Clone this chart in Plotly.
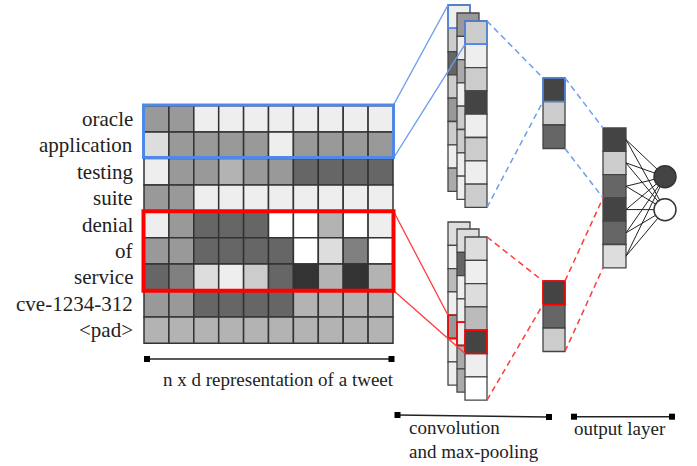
import plotly.graph_objects as go

W, H = 697, 466

# ---------------- data ----------------
words = ["oracle", "application", "testing", "suite", "denial", "of",
         "service", "cve-1234-312", "<pad>"]

# grey level (0 = black, 255 = white) of every cell of the n x d tweet matrix
tweet_matrix = [
    [153, 153, 238, 238, 238, 238, 238, 238, 238, 238],
    [221, 153, 153, 153, 153, 238, 153, 153, 153, 153],
    [238, 153, 153, 179, 153, 153, 102, 102, 102, 102],
    [153, 153, 238, 238, 238, 238, 238, 238, 238, 238],
    [238, 153, 102, 102, 102, 255, 255, 179, 255, 238],
    [153, 153, 102, 102, 102, 102, 255, 221, 128, 255],
    [102, 128, 221, 238, 204, 102, 51, 179, 51, 179],
    [153, 153, 102, 102, 102, 102, 179, 179, 179, 179],
    [179, 179, 179, 179, 179, 179, 179, 179, 179, 179],
]

# feature maps of the filter of height 2 (blue) – back, middle, front
fmap2_back = [238, 204, 102, 204, 153, 204, 238, 170]
fmap2_mid = [153, 238, 170, 238, 204, 204, 238, 238]
fmap2_front = [204, 238, 204, 68, 238, 204, 238, 204]

# feature maps of the filter of height 3 (red) – back, middle, front
fmap3_back = [221, 238, 187, 238, 153, 238, 238]
fmap3_mid = [221, 102, 238, 238, 238, 170, 170]
fmap3_front = [221, 238, 221, 187, 68, 238, 255]

pooled2 = [68, 204, 102]
pooled3 = [68, 102, 204]
output_vec = [68, 204, 102, 68, 102, 221]
output_nodes = [68, 255]

caption_tweet = "n x d representation of a tweet"
caption_conv = ["convolution", "and max-pooling"]
caption_out = "output layer"

# ---------------- styles ----------------
BLUE = "#4f88e6"
BLUE_L = "#6d9eeb"
RED = "#ff0000"
RED_L = "#ff3b3b"
CELL_LINE = "#444444"
FONT = "Liberation Serif"


def gray(v):
    return f"rgb({v},{v},{v})"


fig = go.Figure()


def add_column(x_left, top, width, cell_h, values, hl=None, hl_color=None,
               lc=CELL_LINE, lw=1.3, hl_w=1.6):
    n = len(values)
    fig.add_trace(go.Bar(
        x=[x_left + width / 2] * n, y=[cell_h] * n,
        base=[top + i * cell_h for i in range(n)], width=[width] * n,
        marker=dict(color=[gray(v) for v in values], line=dict(color=lc, width=lw)),
        hoverinfo="skip", showlegend=False))
    if hl is not None:
        fig.add_trace(go.Bar(
            x=[x_left + width / 2], y=[cell_h], base=[top + hl * cell_h], width=[width],
            marker=dict(color="rgba(0,0,0,0)", line=dict(color=hl_color, width=hl_w)),
            hoverinfo="skip", showlegend=False))


# ---------------- tweet matrix ----------------
gx0, gy0, cw, rh = 144.0, 105.7, 24.9, 26.4
for r, row in enumerate(tweet_matrix):
    fig.add_trace(go.Bar(
        x=[gx0 + cw * (c + 0.5) for c in range(len(row))],
        y=[rh] * len(row), base=[gy0 + r * rh] * len(row), width=[cw] * len(row),
        marker=dict(color=[gray(v) for v in row], line=dict(color="#333333", width=1.5)),
        hoverinfo="skip", showlegend=False))

for i, w in enumerate(words):
    fig.add_annotation(x=135, y=gy0 + rh * (i + 0.5), text=w, xanchor="right",
                       yanchor="middle", showarrow=False,
                       font=dict(family=FONT, size=21, color="#222222"))

# ---------------- feature maps ----------------
ch = 23.3
add_column(448, 5, 22, ch, fmap2_back, 0, BLUE)
add_column(457, 13, 22, ch, fmap2_mid)
add_column(465, 21, 22, ch, fmap2_front, 0, BLUE)

add_column(448, 222, 22, ch, fmap3_back, 4, RED)
add_column(457, 229, 22, ch, fmap3_mid, 4, RED)
add_column(465, 237, 22, ch, fmap3_front, 4, RED)

add_column(543, 78, 22, 23.5, pooled2, 0, BLUE)
add_column(543, 281, 22, 23.5, pooled3, 0, RED)

add_column(603, 128, 23, 23.3, output_vec)

# ---------------- connections ----------------
def seg(xs, ys, color, width, dash="solid"):
    fig.add_trace(go.Scatter(x=xs, y=ys, mode="lines", hoverinfo="skip", showlegend=False,
                             line=dict(color=color, width=width, dash=dash)))


# matrix -> feature maps (solid)
seg([393.5, 448, None, 393.5, 465], [105, 5, None, 158, 21 + ch], BLUE_L, 1.4)
seg([393.5, 448, None, 393.5, 465], [211.3, 222 + 4 * ch, None, 290.5, 237 + 5 * ch], RED_L, 1.3)

# feature maps -> pooled (dashed)
seg([487, 543, None, 487, 543], [21, 78, None, 21 + 8 * ch, 78 + 23.5], BLUE_L, 1.5, "6px,4px")
seg([487, 543, None, 487, 543], [237, 281, None, 237 + 7 * ch, 281 + 23.5], RED_L, 1.5, "6px,4px")

# pooled -> output vector (dashed)
seg([565, 603, None, 565, 603], [78, 128, None, 78 + 3 * 23.5, 128 + 3 * 23.3], BLUE_L, 1.5, "6px,4px")
seg([565, 603, None, 565, 603], [281, 128 + 3 * 23.3, None, 281 + 3 * 23.5, 128 + 6 * 23.3], RED_L, 1.5, "6px,4px")

# fully connected
node_x = [665, 665]
node_y = [176.7, 209.7]
fx, fy = [], []
for i in range(len(output_vec)):
    for nyv in node_y:
        fx += [626, node_x[0], None]
        fy += [128 + 23.3 * (i + 0.5), nyv, None]
seg(fx, fy, "#222222", 1.0)

fig.add_trace(go.Scatter(x=node_x, y=node_y, mode="markers", hoverinfo="skip", showlegend=False,
                         marker=dict(size=22, color=[gray(v) for v in output_nodes],
                                     line=dict(color="#333333", width=1.5))))

# ---------------- brackets & captions ----------------
def bracket(x0, y0, x1, y1):
    fig.add_trace(go.Scatter(x=[x0, x1], y=[y0, y1], mode="lines+markers", hoverinfo="skip",
                             showlegend=False, line=dict(color="#222222", width=1.5),
                             marker=dict(symbol="square", size=6, color="black")))


bracket(147, 359, 391.5, 359)
bracket(397.5, 415, 549, 417)
bracket(574, 416.7, 672, 416.7)

fig.add_annotation(x=161, y=379, text=caption_tweet, xanchor="left", yanchor="middle",
                   showarrow=False, font=dict(family=FONT, size=19, color="#222222"))
fig.add_annotation(x=407, y=427, text=caption_conv[0], xanchor="left", yanchor="middle",
                   showarrow=False, font=dict(family=FONT, size=19, color="#222222"))
fig.add_annotation(x=407, y=451, text=caption_conv[1], xanchor="left", yanchor="middle",
                   showarrow=False, font=dict(family=FONT, size=19, color="#222222"))
fig.add_annotation(x=572, y=428, text=caption_out, xanchor="left", yanchor="middle",
                   showarrow=False, font=dict(family=FONT, size=19, color="#222222"))

# highlight boxes on the matrix
fig.add_shape(type="rect", x0=143.5, x1=393.5, y0=105, y1=157.5,
              line=dict(color=BLUE, width=3), layer="above")
fig.add_shape(type="rect", x0=143.5, x1=393.5, y0=211.3, y1=290.8,
              line=dict(color=RED, width=4), layer="above")

fig.update_layout(
    width=W, height=H, margin=dict(l=0, r=0, t=0, b=0),
    paper_bgcolor="white", plot_bgcolor="white", barmode="overlay",
    xaxis=dict(range=[0, W], visible=False, fixedrange=True),
    yaxis=dict(range=[H, 0], visible=False, fixedrange=True),
    showlegend=False,
)

fig.write_html("out.html", config={"displayModeBar": False},
               post_script="document.body.style.margin='0';document.body.style.overflow='hidden';")
